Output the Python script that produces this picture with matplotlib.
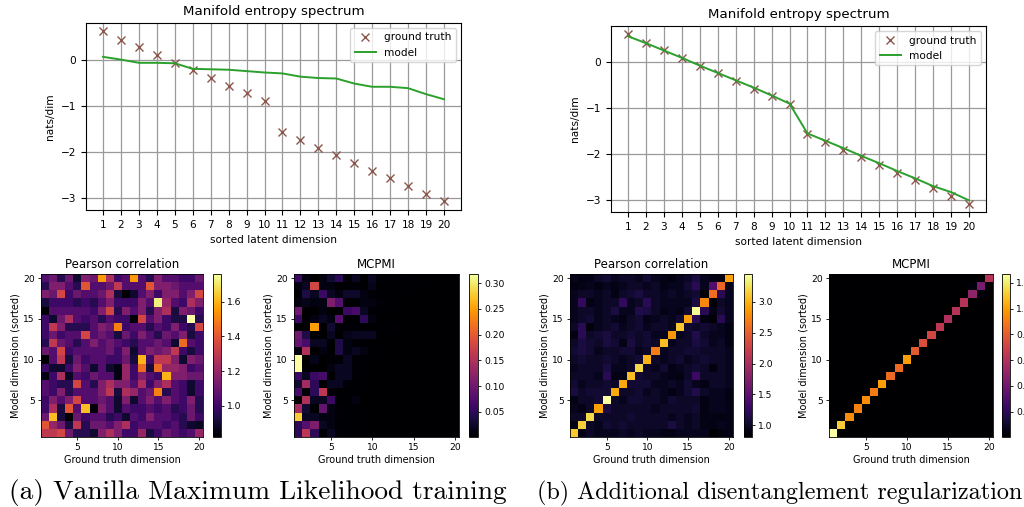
import numpy as np
import matplotlib
matplotlib.use("Agg")
import matplotlib.pyplot as plt

# --- data ---
dims = np.arange(1, 21)
ground_truth = [0.61, 0.43, 0.27, 0.10, -0.07, -0.23, -0.40, -0.57, -0.73, -0.90,
                -1.57, -1.74, -1.91, -2.07, -2.24, -2.41, -2.57, -2.74, -2.91, -3.08]
model_vanilla = [0.06, 0.0, -0.07, -0.07, -0.08, -0.20, -0.21, -0.22, -0.25, -0.28,
                 -0.30, -0.37, -0.40, -0.41, -0.52, -0.59, -0.59, -0.62, -0.75, -0.86]
model_reg = [0.57, 0.42, 0.26, 0.10, -0.07, -0.23, -0.39, -0.55, -0.72, -0.90,
             -1.55, -1.71, -1.87, -2.04, -2.20, -2.37, -2.53, -2.70, -2.83, -3.01]

# heatmaps: rows listed from top (model dim 20) to bottom (model dim 1)
pearson_vanilla = [
    [1.05, 1.1, 0.95, 1.1, 0.9, 1.15, 1.1, 1.55, 1.25, 1.0, 1.05, 1.55, 1.05, 0.95, 1.15, 1.05, 1.05, 1.0, 1.0, 1.1],
    [0.95, 1.15, 1.15, 1.05, 0.95, 1.4, 1.05, 1.05, 1.1, 1.3, 1.05, 1.05, 1.05, 1.4, 1.15, 1.15, 1.1, 1.05, 1.05, 1.05],
    [1.15, 1.1, 1.35, 1.0, 1.1, 1.05, 1.05, 1.1, 1.25, 0.92, 0.82, 0.9, 1.05, 1.15, 1.0, 1.15, 1.15, 1.05, 1.15, 1.35],
    [0.92, 1.0, 1.0, 1.0, 0.95, 1.0, 0.95, 1.05, 1.15, 1.0, 1.0, 1.0, 1.15, 1.05, 1.72, 1.2, 1.05, 1.0, 1.25, 1.15],
    [0.83, 1.05, 1.05, 1.05, 1.05, 1.05, 1.0, 1.15, 1.35, 0.95, 1.15, 1.05, 1.15, 0.95, 1.15, 1.25, 0.92, 1.15, 1.1, 1.0],
    [1.0, 0.9, 1.1, 1.25, 1.05, 1.0, 1.05, 0.95, 1.05, 1.0, 1.0, 0.83, 1.35, 1.05, 1.15, 1.0, 0.93, 0.93, 1.76, 0.95],
    [1.0, 1.3, 1.15, 0.95, 0.95, 0.95, 1.05, 1.15, 1.1, 1.5, 1.0, 1.05, 1.05, 0.95, 1.05, 1.0, 1.15, 1.0, 0.95, 1.35],
    [1.0, 1.1, 1.0, 1.05, 1.05, 1.35, 1.05, 1.1, 1.05, 0.92, 1.1, 1.0, 1.15, 1.05, 0.95, 1.1, 1.05, 1.15, 0.92, 1.0],
    [0.95, 1.3, 1.1, 1.05, 0.95, 1.05, 1.15, 1.05, 1.1, 1.05, 1.0, 0.95, 1.05, 1.05, 1.1, 1.05, 0.9, 1.45, 1.05, 1.0],
    [1.1, 1.05, 1.35, 1.0, 1.05, 1.05, 1.05, 1.05, 1.1, 1.0, 1.15, 0.9, 1.05, 1.15, 1.1, 1.15, 1.3, 1.0, 0.92, 1.0],
    [0.82, 1.05, 1.3, 0.92, 1.1, 1.0, 1.05, 1.05, 1.0, 1.0, 1.1, 0.92, 1.6, 1.0, 1.3, 1.3, 1.15, 0.9, 1.15, 1.1],
    [1.0, 0.9, 0.9, 1.0, 1.15, 1.05, 0.9, 1.05, 0.9, 0.85, 1.2, 1.0, 1.45, 0.92, 1.45, 1.2, 1.2, 1.15, 1.0, 1.05],
    [0.85, 1.0, 1.25, 0.88, 1.05, 1.0, 1.1, 1.05, 1.05, 0.85, 1.2, 1.0, 1.15, 1.05, 1.0, 1.6, 1.15, 1.15, 1.1, 1.1],
    [1.05, 1.0, 0.95, 0.95, 1.35, 1.05, 0.95, 1.15, 1.25, 1.15, 1.15, 1.05, 1.25, 1.0, 1.15, 1.25, 1.05, 1.0, 0.9, 1.0],
    [1.05, 1.0, 1.15, 0.95, 1.05, 1.05, 1.05, 1.15, 1.3, 0.92, 1.25, 1.2, 1.05, 1.1, 1.5, 0.95, 1.05, 1.0, 0.9, 1.0],
    [1.0, 1.15, 1.05, 1.15, 1.35, 1.05, 1.05, 1.1, 1.05, 0.9, 1.15, 0.9, 1.05, 1.15, 1.05, 1.15, 1.05, 1.0, 1.15, 0.95],
    [1.0, 1.25, 0.92, 1.4, 1.05, 1.62, 0.83, 1.15, 1.05, 0.9, 1.05, 1.0, 1.0, 1.05, 1.0, 1.05, 0.95, 1.0, 1.1, 0.95],
    [1.1, 1.62, 0.92, 0.82, 1.1, 1.0, 1.05, 1.05, 0.95, 1.0, 0.9, 1.05, 1.0, 1.15, 1.05, 1.05, 1.0, 0.95, 1.1, 1.0],
    [1.4, 1.2, 1.1, 0.92, 1.3, 0.95, 1.1, 1.1, 1.05, 1.15, 1.25, 1.0, 1.05, 1.05, 1.05, 1.0, 1.05, 0.95, 0.9, 0.88],
    [1.3, 1.3, 1.35, 1.1, 0.95, 0.95, 0.9, 1.15, 1.25, 1.15, 1.0, 1.0, 1.2, 0.92, 1.0, 1.1, 1.05, 1.0, 1.05, 1.2],
]

mcpmi_vanilla = [
    [0.06, 0.01, 0.001, 0.01, 0.03, 0.05, 0.005, 0.02, 0.001, 0.02, 0.005, 0.003, 0.003, 0.005, 0.003, 0.002, 0.002, 0.002, 0.002, 0.002],
    [0.01, 0.02, 0.18, 0.01, 0.01, 0.003, 0.003, 0.005, 0.003, 0.015, 0.003, 0.002, 0.002, 0.003, 0.002, 0.004, 0.002, 0.002, 0.002, 0.002],
    [0.001, 0.04, 0.02, 0.06, 0.02, 0.01, 0.025, 0.025, 0.01, 0.005, 0.003, 0.003, 0.005, 0.002, 0.002, 0.002, 0.002, 0.002, 0.002, 0.002],
    [0.01, 0.015, 0.01, 0.01, 0.11, 0.08, 0.001, 0.003, 0.01, 0.01, 0.005, 0.003, 0.002, 0.002, 0.002, 0.002, 0.002, 0.002, 0.002, 0.002],
    [0.1, 0.001, 0.001, 0.01, 0.001, 0.001, 0.06, 0.07, 0.02, 0.005, 0.003, 0.002, 0.002, 0.002, 0.002, 0.002, 0.002, 0.002, 0.002, 0.002],
    [0.06, 0.001, 0.01, 0.02, 0.01, 0.08, 0.001, 0.001, 0.05, 0.01, 0.003, 0.002, 0.002, 0.002, 0.002, 0.002, 0.002, 0.002, 0.002, 0.002],
    [0.001, 0.001, 0.25, 0.001, 0.03, 0.005, 0.005, 0.005, 0.003, 0.003, 0.003, 0.002, 0.004, 0.002, 0.002, 0.002, 0.002, 0.002, 0.002, 0.002],
    [0.1, 0.04, 0.001, 0.001, 0.02, 0.001, 0.015, 0.02, 0.02, 0.02, 0.003, 0.002, 0.002, 0.002, 0.002, 0.002, 0.002, 0.002, 0.002, 0.002],
    [0.09, 0.07, 0.02, 0.02, 0.001, 0.04, 0.01, 0.005, 0.003, 0.003, 0.002, 0.002, 0.002, 0.002, 0.002, 0.002, 0.002, 0.002, 0.002, 0.002],
    [0.01, 0.15, 0.001, 0.01, 0.001, 0.04, 0.01, 0.02, 0.01, 0.003, 0.003, 0.002, 0.002, 0.002, 0.002, 0.002, 0.002, 0.002, 0.002, 0.002],
    [0.318, 0.001, 0.015, 0.001, 0.005, 0.005, 0.02, 0.005, 0.003, 0.002, 0.002, 0.002, 0.002, 0.002, 0.002, 0.002, 0.002, 0.002, 0.002, 0.002],
    [0.318, 0.001, 0.001, 0.001, 0.01, 0.02, 0.02, 0.005, 0.003, 0.002, 0.002, 0.002, 0.002, 0.002, 0.002, 0.002, 0.002, 0.002, 0.002, 0.002],
    [0.06, 0.02, 0.06, 0.07, 0.001, 0.02, 0.02, 0.005, 0.003, 0.002, 0.002, 0.002, 0.002, 0.002, 0.002, 0.002, 0.002, 0.002, 0.002, 0.002],
    [0.03, 0.14, 0.05, 0.001, 0.02, 0.02, 0.005, 0.003, 0.002, 0.002, 0.002, 0.002, 0.002, 0.002, 0.002, 0.002, 0.002, 0.002, 0.002, 0.002],
    [0.07, 0.001, 0.05, 0.16, 0.005, 0.001, 0.003, 0.003, 0.002, 0.002, 0.002, 0.002, 0.002, 0.002, 0.002, 0.002, 0.002, 0.002, 0.002, 0.002],
    [0.001, 0.15, 0.02, 0.02, 0.06, 0.001, 0.003, 0.01, 0.002, 0.002, 0.002, 0.002, 0.002, 0.002, 0.002, 0.002, 0.002, 0.002, 0.002, 0.002],
    [0.14, 0.03, 0.001, 0.09, 0.01, 0.005, 0.003, 0.003, 0.002, 0.002, 0.002, 0.002, 0.002, 0.002, 0.002, 0.002, 0.002, 0.002, 0.002, 0.002],
    [0.28, 0.02, 0.02, 0.01, 0.01, 0.005, 0.003, 0.003, 0.002, 0.002, 0.002, 0.002, 0.002, 0.002, 0.002, 0.002, 0.002, 0.002, 0.002, 0.002],
    [0.05, 0.08, 0.11, 0.02, 0.01, 0.003, 0.003, 0.003, 0.002, 0.002, 0.002, 0.002, 0.002, 0.002, 0.002, 0.002, 0.002, 0.002, 0.002, 0.002],
    [0.05, 0.16, 0.05, 0.001, 0.02, 0.005, 0.003, 0.003, 0.002, 0.002, 0.002, 0.002, 0.002, 0.002, 0.002, 0.002, 0.002, 0.002, 0.002, 0.002],
]

# off-diagonal part of the regularized Pearson map (diagonal filled below)
pearson_reg_off = [
    [0.95, 0.9, 0.92, 1.0, 1.05, 0.95, 1.0, 1.0, 0.95, 1.05, 0.95, 0.92, 0.88, 0.95, 1.0, 1.1, 0.95, 0.9, 0.9, 0],
    [0.9, 0.92, 0.95, 0.9, 0.95, 0.92, 0.95, 1.0, 1.0, 0.95, 1.0, 0.92, 0.95, 0.95, 1.05, 1.2, 0.95, 1.45, 0, 0.95],
    [0.95, 1.0, 1.0, 0.95, 1.0, 0.92, 1.0, 1.05, 1.1, 1.0, 1.0, 0.95, 1.0, 0.95, 1.0, 1.05, 0.85, 0, 1.2, 0.95],
    [0.95, 1.25, 0.9, 0.95, 1.0, 1.0, 1.25, 0.95, 1.0, 1.2, 1.0, 0.95, 0.95, 0.95, 0.95, 1.1, 0, 0.85, 1.0, 0.95],
    [0.95, 1.0, 1.0, 0.95, 1.0, 1.1, 0.95, 0.95, 1.15, 1.1, 1.0, 0.92, 0.95, 0.92, 1.05, 0, 1.2, 0.92, 1.05, 0.95],
    [0.95, 1.0, 1.05, 0.95, 1.0, 0.95, 0.92, 1.0, 1.05, 0.92, 0.95, 1.0, 0.95, 1.05, 0, 1.2, 0.9, 0.85, 1.2, 0.95],
    [1.0, 1.2, 0.88, 0.95, 1.0, 1.05, 0.95, 1.0, 1.05, 0.95, 1.0, 1.0, 0.95, 0, 1.05, 1.0, 1.05, 1.0, 0.95, 0.9],
    [0.9, 1.2, 1.0, 1.05, 1.1, 1.0, 1.0, 1.05, 1.0, 1.05, 0.95, 0.95, 0, 0.95, 1.0, 1.15, 1.0, 0.95, 0.95, 0.9],
    [1.0, 1.1, 1.05, 1.0, 1.1, 1.05, 0.92, 1.1, 1.0, 1.05, 1.0, 0, 0.95, 1.0, 1.0, 1.1, 1.05, 0.95, 1.0, 0.9],
    [1.05, 1.1, 1.05, 0.95, 1.0, 1.0, 1.05, 1.05, 0.95, 1.0, 0, 0.95, 1.0, 1.0, 1.05, 1.05, 1.0, 1.0, 1.0, 0.95],
    [1.0, 1.05, 1.0, 1.0, 1.05, 1.0, 0.95, 1.0, 1.05, 0, 1.0, 0.95, 1.0, 1.05, 0.95, 1.0, 1.05, 1.0, 1.0, 0.95],
    [0.95, 1.0, 1.0, 1.0, 1.1, 0.95, 0.95, 1.0, 0, 1.0, 0.95, 1.05, 0.92, 0.95, 1.0, 1.05, 1.0, 0.88, 1.0, 0.95],
    [1.0, 1.0, 1.0, 0.95, 1.2, 0.9, 0.92, 0, 1.05, 1.0, 1.0, 0.95, 0.92, 0.9, 1.0, 1.3, 1.0, 1.0, 1.0, 0.95],
    [1.05, 0.95, 1.0, 1.0, 1.05, 1.0, 0, 1.05, 1.05, 1.05, 0.95, 0.95, 1.0, 0.95, 1.05, 0.95, 0.9, 1.0, 1.0, 0.95],
    [1.1, 1.0, 1.05, 1.05, 1.05, 0, 1.0, 1.0, 1.05, 0.95, 1.0, 0.95, 0.9, 0.95, 1.05, 1.15, 1.0, 0.95, 0.95, 0.9],
    [0.92, 1.0, 1.0, 1.05, 0, 1.0, 0.95, 1.05, 1.05, 1.0, 1.0, 0.95, 1.05, 1.0, 1.0, 1.0, 0.9, 0.95, 0.95, 0.9],
    [0.95, 0.92, 1.0, 0, 1.1, 1.0, 1.0, 1.0, 1.0, 1.0, 0.95, 1.0, 1.0, 1.0, 1.0, 1.05, 0.9, 0.95, 0.95, 0.92],
    [1.0, 1.0, 0, 1.0, 1.0, 1.0, 1.0, 1.05, 1.0, 1.0, 1.0, 1.0, 0.95, 1.0, 0.95, 1.0, 0.9, 0.92, 0.9, 0.92],
    [0.92, 0, 1.0, 0.95, 1.05, 1.0, 1.05, 1.0, 1.0, 1.0, 1.0, 1.0, 1.1, 1.0, 0.95, 1.0, 0.92, 0.9, 0.95, 0.92],
    [0, 0.92, 1.0, 0.95, 0.95, 0.95, 1.0, 0.95, 1.0, 0.95, 0.95, 0.92, 0.9, 0.95, 0.95, 0.95, 0.95, 0.81, 0.88, 0.9],
]
# diagonal, model dim 1 .. 20
pearson_reg_diag = [3.1, 3.15, 3.2, 2.9, 3.45, 2.95, 2.95, 3.05, 3.2, 3.0,
                    2.7, 3.05, 2.85, 3.1, 2.9, 3.4, 2.75, 2.6, 2.55, 2.9]
mcpmi_reg_diag = [1.27, 1.12, 0.95, 0.92, 0.95, 0.9, 1.0, 0.85, 0.85, 1.0,
                  0.8, 0.75, 0.72, 0.65, 0.6, 0.62, 0.62, 0.5, 0.42, 0.62]
mcpmi_reg_background = 0.002
mcpmi_reg_off = {(19, 18): 0.03, (18, 19): 0.03}  # (model dim, truth dim)


def with_diag(off, diag):
    m = np.array(off, dtype=float)
    for k, v in enumerate(diag):
        m[19 - k, k] = v
    return m


pearson_reg = with_diag(pearson_reg_off, pearson_reg_diag)
mcpmi_reg = with_diag(np.full((20, 20), mcpmi_reg_background), mcpmi_reg_diag)
for (r, c), v in mcpmi_reg_off.items():
    mcpmi_reg[20 - r, c - 1] = v

W, H = 1024, 507


def box(x0, y0, x1, y1):
    return [x0 / W, 1 - y1 / H, (x1 - x0) / W, (y1 - y0) / H]


plt.rcParams['font.size'] = 7.6
fig = plt.figure(figsize=(W / 100, H / 100), dpi=100)


def spectrum(rect, model):
    ax = fig.add_axes(rect)
    ax.plot(dims, ground_truth, 'x', color='tab:brown', markersize=5.5, label='ground truth')
    ax.plot(dims, model, color='tab:green', linewidth=1.4, label='model')
    ax.set_xticks(dims)
    ax.set_title('Manifold entropy spectrum', fontsize=9.6)
    ax.set_xlabel('sorted latent dimension')
    ax.set_ylabel('nats/dim')
    ax.grid(color='#9a9a9a', linewidth=0.9)
    ax.legend(loc='upper right')
    return ax


def heatmap(rect, crect, mat, title):
    ax = fig.add_axes(rect)
    im = ax.imshow(mat, cmap='inferno', extent=(0.5, 20.5, 0.5, 20.5), aspect='auto')
    ax.set_xticks([5, 10, 15, 20])
    ax.set_yticks([5, 10, 15, 20])
    ax.tick_params(labelsize=6.6, length=2.5, width=0.6, pad=2)
    for s in ax.spines.values():
        s.set_linewidth(0.6)
    ax.set_title(title, fontsize=8.5, pad=4)
    ax.set_xlabel('Ground truth dimension', fontsize=7, labelpad=2)
    ax.set_ylabel('Model dimension (sorted)', fontsize=7, labelpad=2)
    cax = fig.add_axes(crect)
    cb = fig.colorbar(im, cax=cax)
    cb.ax.tick_params(labelsize=6.6, length=2.5, width=0.6, pad=2)
    cb.outline.set_linewidth(0.6)


spectrum(box(86, 23, 461, 210), model_vanilla)
spectrum(box(611, 26, 986, 212), model_reg)

heatmap(box(41, 274, 203, 437), box(213, 274, 221, 437), pearson_vanilla, 'Pearson correlation')
heatmap(box(294, 274, 459, 437), box(469, 274, 478, 437), mcpmi_vanilla, 'MCPMI')
heatmap(box(570, 274, 733, 437), box(744, 274, 752, 437), pearson_reg, 'Pearson correlation')
heatmap(box(829, 274, 993, 437), box(1002, 274, 1010, 437), mcpmi_reg, 'MCPMI')

fig.text(257.5 / W, 1 - 499 / H, '(a) Vanilla Maximum Likelihood training',
         family='cmr10', fontsize=19.7, ha='center', va='baseline')
fig.text(779.5 / W, 1 - 499 / H, '(b) Additional disentanglement regularization',
         family='cmr10', fontsize=17.4, ha='center', va='baseline')

fig.savefig('out.png', dpi=100)
